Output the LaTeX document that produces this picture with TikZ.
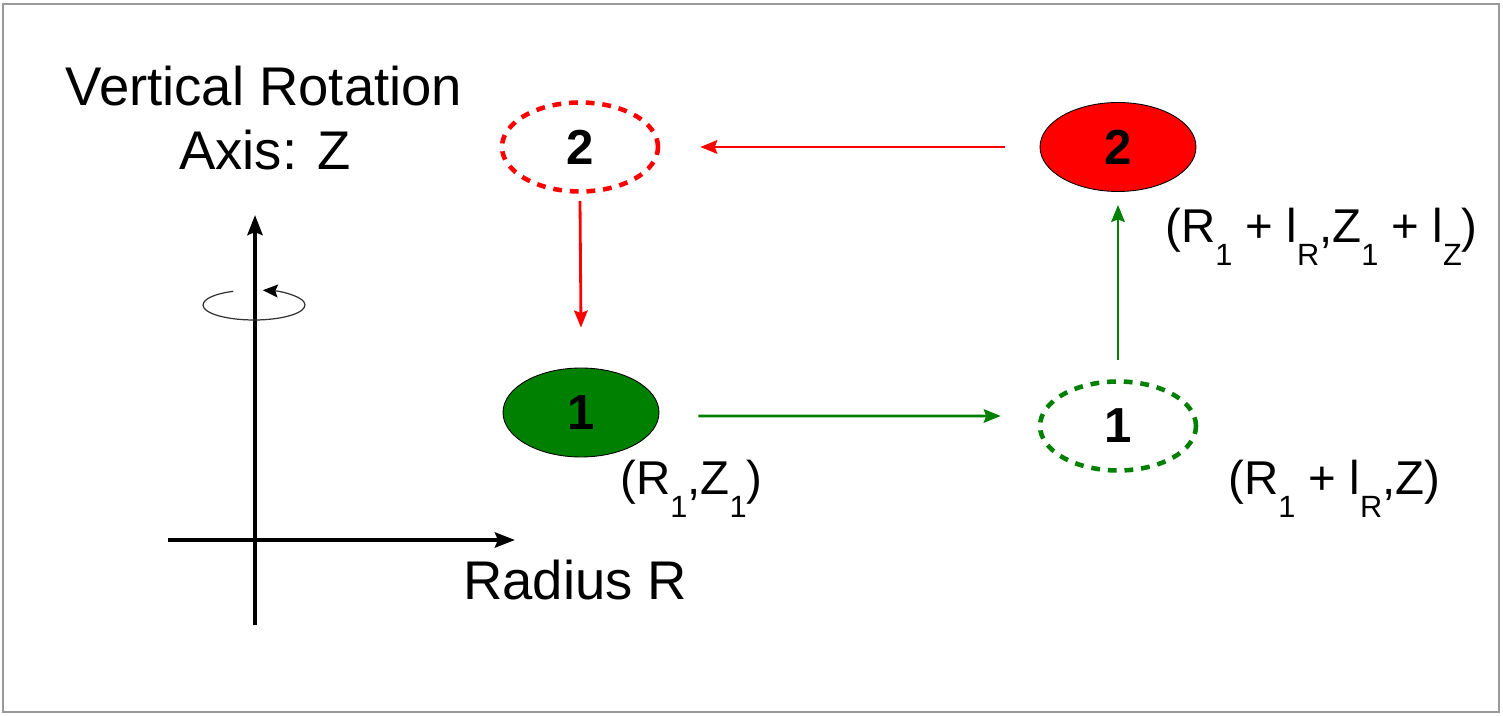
\documentclass[tikz,border=0pt]{standalone}
\usepackage{fontspec}
\setmainfont{Liberation Sans}
\usetikzlibrary{shapes.geometric,arrows.meta}
\definecolor{dgreen}{RGB}{0,128,0}
\newcommand{\sbs}[1]{\raisebox{-0.47em}{\fontsize{17.5}{17.5}\selectfont #1}}
\tikzset{
  big/.style={font=\fontsize{31}{31}\selectfont, inner sep=0pt},
  lbl/.style={font=\fontsize{27}{27}\selectfont, inner sep=0pt, anchor=base west},
  num/.style={font=\fontsize{28}{28}\selectfont\bfseries},
  blob/.style={ellipse, minimum width=3.12cm, minimum height=1.78cm, inner sep=0pt, num},
  filledblob/.style={blob, draw=black, line width=0.5pt},
  dashblob/.style={blob, line width=2.6pt, dash pattern=on 5pt off 4.5pt},
  axis/.style={line width=2.4pt, -{Stealth[length=0.4cm,width=0.3cm,inset=0.06cm]}},
  carrow/.style={line width=1.6pt, -{Stealth[length=0.34cm,width=0.27cm,inset=0.05cm]}},
}
\begin{document}
\begin{tikzpicture}[x=0.02cm,y=0.02cm]
\useasboundingbox (0,0) rectangle (1503,716);
\draw[gray!80, line width=0.6pt] (3,4) rectangle (1499,712);

% title
\node[big, anchor=base] (t1) at (264,610) {Vertical Rotation};
\node[big, anchor=base] (t2) at (265,546) {Axis: Z};

% axes
\coordinate (vb) at (255,91);
\coordinate (vt) at (255,501);
\coordinate (hl) at (168,176);
\coordinate (hr) at (515,176);
\draw[axis] (vb) -- (vt);
\draw[axis] (hl) -- (hr);
\node[big, anchor=base west] (rr) at (463,116) {Radius R};

% rotation symbol
\coordinate (rc) at (254,411);
\draw[black!80, line width=0.7pt, -{Stealth[length=0.3cm,width=0.26cm,inset=0.05cm,black]}]
  ([shift={(114:1.02cm and 0.3cm)}]rc) arc[start angle=114, end angle=440, x radius=1.02cm, y radius=0.3cm];

% blobs
\node[dashblob, draw=red] (r2d) at (580,569) {2};
\node[filledblob, fill=red] (r2) at (1118,569) {2};
\node[filledblob, fill=dgreen] (g1) at (581,303.5) {1};
\node[dashblob, draw=dgreen] (gd) at (1118,290) {1};

% connectors
\draw[carrow, red] ([xshift=-0.7cm]r2.west) -- ([xshift=0.8cm]r2d.east);
\draw[carrow, red] ([yshift=-0.14cm]r2d.south) -- ([yshift=0.8cm]g1.north);
\draw[carrow, dgreen] ([xshift=0.78cm,yshift=-0.07cm]g1.east) -- ([xshift=-0.74cm,yshift=0.2cm]gd.west);
\draw[carrow, dgreen] ([yshift=0.38cm]gd.north) -- ([yshift=-0.26cm]r2.south);

% labels
\node[lbl] (l1) at (620,221) {(R\sbs{1},Z\sbs{1})};
\node[lbl] (l2) at (1228,221) {(R\sbs{1} + l\sbs{R},Z)};
\node[lbl] (l3) at (1165,473) {(R\sbs{1} + l\sbs{R},Z\sbs{1} + l\sbs{Z})};
\end{tikzpicture}
\end{document}
